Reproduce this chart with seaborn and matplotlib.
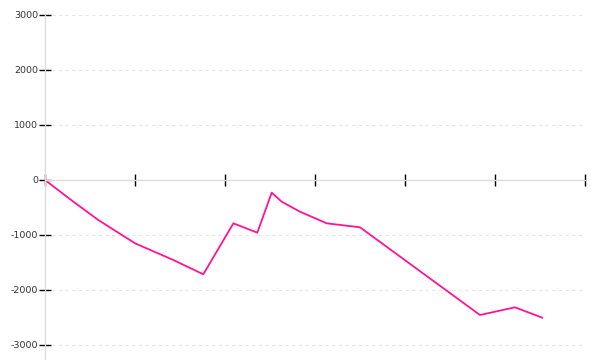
import matplotlib
matplotlib.use("Agg")
import matplotlib.pyplot as plt
import seaborn as sns
import pandas as pd

x_vals = [0.0, 0.315, 0.592, 1.0, 1.426, 1.759, 2.093, 2.359, 2.519, 2.63, 2.833, 3.13, 3.5, 4.833, 5.222, 5.526]
y_vals = [0, -394, -727, -1151, -1455, -1715, -788, -958, -230, -395, -576, -788, -860, -2455, -2315, -2504]
y_ticks = [-3000, -2000, -1000, 0, 1000, 2000, 3000]
x_ticks = [0, 1, 2, 3, 4, 5, 6]

df = pd.DataFrame({"x": x_vals, "y": y_vals})

sns.set_style("white")
plt.rcParams['font.family'] = ['DejaVu Sans']

fig = plt.figure(figsize=(6, 3.6), dpi=100)
ax = fig.add_axes([45/600, 0.0, 540/600, 345/360])

for yt in y_ticks:
    if yt != 0:
        ax.axhline(yt, color="#e6e6e6", lw=0.8, ls=(0, (3, 3)), zorder=0)

sns.lineplot(data=df, x="x", y="y", color="#ff1493", lw=1.3, ax=ax, sort=False)

ax.set_xlim(0, 6)
ax.set_ylim(-3273, 3000)
ax.set_xticks(x_ticks)
ax.set_xticklabels([])
ax.set_yticks(y_ticks)
ax.set_yticklabels([str(v) for v in y_ticks], fontsize=6.8, color="#333333")
ax.set_xlabel("")
ax.set_ylabel("")

for s in ["top", "right"]:
    ax.spines[s].set_visible(False)
ax.spines["bottom"].set_position(("data", 0))
ax.spines["bottom"].set_color("#dddddd")
ax.spines["left"].set_color("#dddddd")
ax.spines["bottom"].set_linewidth(1)
ax.spines["left"].set_linewidth(1)
ax.tick_params(axis="x", direction="inout", length=9, width=1, color="black", bottom=True)
ax.tick_params(axis="y", direction="inout", length=8, width=1, color="black", pad=1, left=True)

fig.savefig("out.png", dpi=100)
